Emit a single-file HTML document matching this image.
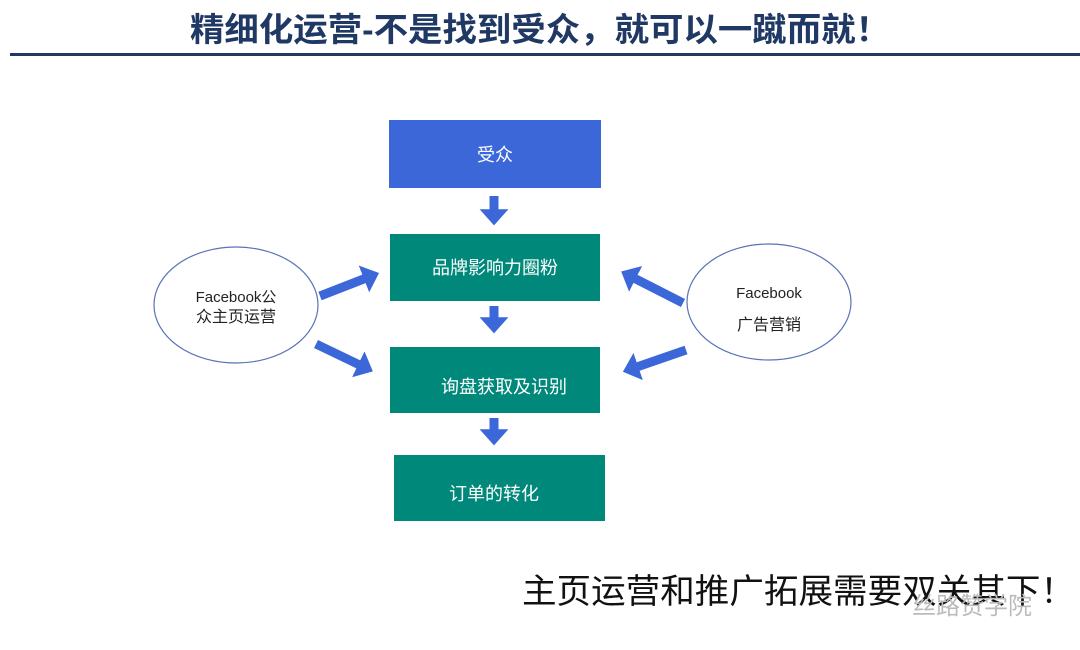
<!DOCTYPE html>
<html><head><meta charset="utf-8"><style>
body{margin:0;background:#fff;}
svg{display:block;font-family:"Liberation Sans","Noto Sans CJK SC",sans-serif;}
</style></head><body>
<svg width="1080" height="650" viewBox="0 0 1080 650">
<defs>
<marker id="a" markerWidth="3.2" markerHeight="3.2" refX="1.2" refY="1.6" orient="auto" markerUnits="strokeWidth"><path d="M0,0 L1.8,1.6 L0,3.2 Z" fill="#3c67d8"/></marker>
</defs>
<text x="190" y="41" font-size="33" font-weight="bold" fill="#1f3864" textLength="700" lengthAdjust="spacingAndGlyphs">精细化运营-不是找到受众，就可以一蹴而就！</text>
<rect x="10" y="53" width="1070" height="3" fill="#1f3864"/>
<rect x="389" y="120" width="212" height="68" fill="#3c67d8"/>
<text x="495" y="161" text-anchor="middle" font-size="18" fill="#fff">受众</text>
<rect x="390" y="234" width="210" height="67" fill="#00897b"/>
<text x="495" y="274" text-anchor="middle" font-size="18" fill="#fff">品牌影响力圈粉</text>
<rect x="390" y="347" width="210" height="66" fill="#00897b"/>
<text x="504" y="393" text-anchor="middle" font-size="18" fill="#fff">询盘获取及识别</text>
<rect x="394" y="455" width="211" height="66" fill="#00897b"/>
<text x="494" y="500" text-anchor="middle" font-size="18" fill="#fff">订单的转化</text>
<g stroke="#3c67d8" stroke-width="9" fill="none" marker-end="url(#a)">
<line x1="494" y1="196" x2="494" y2="220"/>
<line x1="494" y1="306" x2="494" y2="328"/>
<line x1="494" y1="418" x2="494" y2="440"/>
<line x1="320" y1="296" x2="374" y2="275"/>
<line x1="316" y1="344" x2="368" y2="369"/>
<line x1="683" y1="303" x2="626" y2="274"/>
<line x1="686" y1="350" x2="628" y2="370"/>
</g>
<ellipse cx="236" cy="305" rx="82" ry="58" fill="#fff" stroke="#5a73b8" stroke-width="1.2"/>
<ellipse cx="769" cy="302" rx="82" ry="58" fill="#fff" stroke="#5a73b8" stroke-width="1.2"/>
<text x="236" y="302" text-anchor="middle" font-size="15" fill="#222">Facebook公</text>
<text x="236" y="322" text-anchor="middle" font-size="16" fill="#222">众主页运营</text>
<text x="769" y="298" text-anchor="middle" font-size="15" fill="#222">Facebook</text>
<text x="769" y="330" text-anchor="middle" font-size="16" fill="#222">广告营销</text>
<text x="522" y="603" font-size="34" fill="#111" textLength="553" lengthAdjust="spacingAndGlyphs">主页运营和推广拓展需要双关其下！</text>
<text x="912" y="614" font-size="24" fill="#bbb">丝路赞学院</text>
</svg>
</body></html>
